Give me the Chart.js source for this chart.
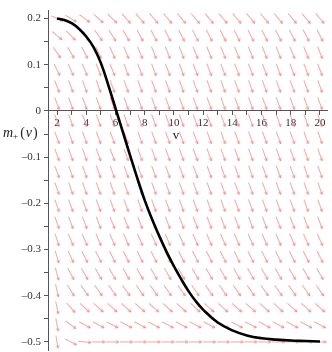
<!DOCTYPE html>
<html>
<head>
<meta charset="utf-8">
<script src="https://cdn.jsdelivr.net/npm/chart.js@4.4.0/dist/chart.umd.min.js"></script>
<style>
  html, body { margin: 0; padding: 0; background: #fff; }
  #wrap { width: 332px; height: 352px; }
</style>
</head>
<body>
<div id="wrap"><canvas id="field-chart" width="332" height="352"></canvas></div>
<script>
// --- solution curve m+(v) ---
const curveV = [2, 2.5, 3, 3.5, 4, 4.5, 5, 5.5, 6, 6.5, 7, 7.5, 8, 8.5, 9, 9.5, 10, 10.5, 11, 11.5, 12, 13, 14, 15, 16, 17, 18, 19, 20];
const curveM = [0.2, 0.197, 0.19, 0.178, 0.161, 0.138, 0.104, 0.057, 0.006, -0.045, -0.096, -0.146, -0.193, -0.234, -0.271, -0.305, -0.336, -0.364, -0.39, -0.412, -0.43, -0.458, -0.475, -0.486, -0.492, -0.495, -0.497, -0.498, -0.499];

// --- direction field grid (20 x 20) ---
const fieldV = [2, 2.947, 3.895, 4.842, 5.789, 6.737, 7.684, 8.632, 9.579, 10.526, 11.474, 12.421, 13.368, 14.316, 15.263, 16.211, 17.158, 18.105, 19.053, 20];
const fieldM = [0.2, 0.163, 0.126, 0.089, 0.053, 0.016, -0.021, -0.058, -0.095, -0.132, -0.168, -0.205, -0.242, -0.279, -0.316, -0.353, -0.389, -0.426, -0.463, -0.5];

// arrow direction, degrees below horizontal (on screen), one row per fieldM value
const fieldAngle = [
    [25, 31, 36, 42, 45, 48, 49, 50, 50, 50, 50, 50, 50, 50, 50, 50, 50, 50, 50, 50],
    [40, 45, 50, 55, 58, 60, 61, 62, 62, 63, 63, 63, 63, 63, 63, 63, 63, 63, 63, 63],
    [56, 60, 63, 65, 66, 67, 67, 68, 68, 68, 68, 68, 68, 68, 68, 68, 68, 68, 68, 68],
    [64, 66, 67, 68, 68, 69, 69, 69, 69, 69, 69, 69, 69, 69, 69, 69, 69, 69, 69, 69],
    [68, 69, 70, 70, 70, 70, 70, 70, 70, 70, 70, 70, 70, 70, 70, 70, 70, 70, 70, 70],
    [69, 70, 70, 70, 70, 70, 70, 70, 70, 70, 70, 70, 70, 70, 70, 70, 70, 70, 70, 70],
    [69, 70, 70, 70, 70, 70, 70, 70, 70, 70, 70, 70, 70, 70, 70, 70, 70, 70, 70, 70],
    [69, 70, 70, 70, 70, 70, 70, 70, 70, 70, 70, 70, 70, 70, 70, 70, 70, 70, 70, 70],
    [69, 70, 70, 70, 70, 70, 70, 70, 70, 70, 70, 70, 70, 70, 70, 70, 70, 70, 70, 70],
    [69, 70, 70, 70, 70, 70, 70, 70, 70, 70, 70, 70, 70, 70, 70, 70, 70, 70, 70, 70],
    [70, 70, 70, 70, 70, 70, 70, 70, 70, 70, 70, 70, 70, 70, 70, 70, 70, 70, 70, 70],
    [70, 70, 70, 70, 70, 70, 70, 70, 70, 70, 70, 70, 70, 70, 70, 70, 70, 70, 70, 70],
    [70, 69, 69, 69, 69, 69, 69, 69, 69, 69, 69, 69, 69, 69, 69, 69, 69, 69, 69, 69],
    [72, 67, 66, 66, 66, 66, 66, 66, 66, 66, 66, 66, 66, 66, 66, 66, 66, 66, 66, 66],
    [73, 65, 63, 63, 63, 63, 63, 63, 63, 63, 63, 63, 63, 63, 63, 63, 63, 63, 63, 63],
    [75, 62, 60, 60, 60, 60, 60, 60, 60, 60, 60, 60, 60, 60, 60, 60, 60, 60, 60, 60],
    [77, 58, 55, 55, 55, 55, 55, 55, 55, 55, 55, 55, 55, 55, 55, 55, 55, 55, 55, 55],
    [78, 48, 43, 42, 42, 42, 42, 42, 42, 42, 42, 42, 42, 42, 42, 42, 42, 42, 42, 42],
    [79, 36, 29, 28, 28, 28, 28, 28, 28, 28, 28, 28, 28, 28, 28, 28, 28, 28, 28, 28],
    [80, 28, 6, 0, 0, 0, 0, 0, 0, 0, 0, 0, 0, 0, 0, 0, 0, 0, 0, 0]
];

// --- tick marks (ascending) ---
const xTicks = [2, 3, 4, 5, 6, 7, 8, 9, 10, 11, 12, 13, 14, 15, 16, 17, 18, 19, 20];
const yTicks = [-0.5, -0.45, -0.4, -0.35, -0.3, -0.25, -0.2, -0.15, -0.1, -0.05, 0, 0.05, 0.1, 0.15, 0.2];

const SERIF = "'Liberation Serif', serif";

// small arrow sprite, pointing right; Chart.js rotates it per point
function makeArrow() {
    const c = document.createElement('canvas');
    c.width = 15;
    c.height = 7;
    const g = c.getContext('2d');
    g.strokeStyle = 'rgba(236, 110, 110, 0.62)';
    g.lineWidth = 1;
    g.beginPath();
    g.moveTo(1, 3.5);
    g.lineTo(14, 3.5);
    g.moveTo(14, 3.5);
    g.lineTo(11, 2);
    g.moveTo(14, 3.5);
    g.lineTo(11, 5);
    g.stroke();
    return c;
}

const arrowPts = [];
const arrowRot = [];
fieldM.forEach((m, i) => {
    fieldV.forEach((v, j) => {
        arrowPts.push({ x: v, y: m });
        arrowRot.push(fieldAngle[i][j]);
    });
});

const curvePts = curveV.map((v, i) => ({ x: v, y: curveM[i] }));

// axis titles drawn as text next to the axes
const axisTitles = {
    id: 'axisTitles',
    afterDraw(chart) {
        const { ctx, scales: { x, y } } = chart;
        const y0 = y.getPixelForValue(0);
        ctx.save();
        ctx.fillStyle = '#222';
        ctx.textBaseline = 'alphabetic';

        ctx.font = '13px ' + SERIF;
        ctx.textAlign = 'center';
        ctx.fillText('v', x.getPixelForValue(10.15), y0 + 28);

        ctx.textAlign = 'left';
        let px = 3;
        const base = y0 + 26.5;
        ctx.font = 'italic 14px ' + SERIF;
        ctx.fillText('m', px, base);
        px += ctx.measureText('m').width;
        ctx.font = '9px ' + SERIF;
        ctx.fillText('+', px, base + 2);
        px += ctx.measureText('+').width + 2;
        ctx.font = '14px ' + SERIF;
        ctx.fillText('(', px, base);
        px += ctx.measureText('(').width + 1;
        ctx.font = 'italic 14px ' + SERIF;
        ctx.fillText('v', px, base);
        px += ctx.measureText('v').width + 1;
        ctx.font = '14px ' + SERIF;
        ctx.fillText(')', px, base);
        ctx.restore();
    }
};

new Chart(document.getElementById('field-chart'), {
    type: 'scatter',
    data: {
        datasets: [
            {
                label: 'm+(v)',
                data: curvePts,
                showLine: true,
                borderColor: '#000',
                borderWidth: 2.6,
                pointRadius: 0,
                tension: 0.4
            },
            {
                label: 'field',
                data: arrowPts,
                pointStyle: makeArrow(),
                pointRotation: arrowRot,
                pointRadius: 7,
                showLine: false
            }
        ]
    },
    options: {
        responsive: false,
        animation: false,
        devicePixelRatio: 1,
        layout: { autoPadding: false, padding: { top: 10, right: 5, bottom: 2, left: 0 } },
        plugins: {
            legend: { display: false },
            tooltip: { enabled: false }
        },
        scales: {
            x: {
                type: 'linear',
                position: { y: 0 },
                min: 1.384,
                max: 20.48,
                afterFit: axis => { axis.height = 0; },
                afterBuildTicks: axis => { axis.ticks = xTicks.map(v => ({ value: v })); },
                border: { color: '#555', width: 1 },
                grid: { drawOnChartArea: false, tickLength: 4, color: '#555' },
                ticks: {
                    autoSkip: false,
                    maxRotation: 0,
                    padding: 2,
                    color: '#333',
                    font: { family: SERIF, size: 11 },
                    callback: v => (v % 2 === 0 ? String(v) : '')
                }
            },
            y: {
                type: 'linear',
                position: 'left',
                min: -0.5175,
                max: 0.2185,
                afterFit: axis => {
                    axis.width = 48;
                    axis.paddingTop = 0;
                    axis.paddingBottom = 0;
                },
                afterBuildTicks: axis => { axis.ticks = yTicks.map(v => ({ value: v })); },
                border: { color: '#555', width: 1 },
                grid: { drawOnChartArea: false, tickLength: 4, color: '#555' },
                ticks: {
                    autoSkip: false,
                    padding: 3,
                    color: '#333',
                    font: { family: SERIF, size: 11 },
                    callback: v => {
                        const k = Math.round(v * 100);
                        if (k % 10 !== 0) return '';
                        if (k === 0) return '0';
                        return (k < 0 ? '\u2013' : '') + (Math.abs(k) / 100).toFixed(1);
                    }
                }
            }
        }
    },
    plugins: [axisTitles]
});
</script>
</body>
</html>
